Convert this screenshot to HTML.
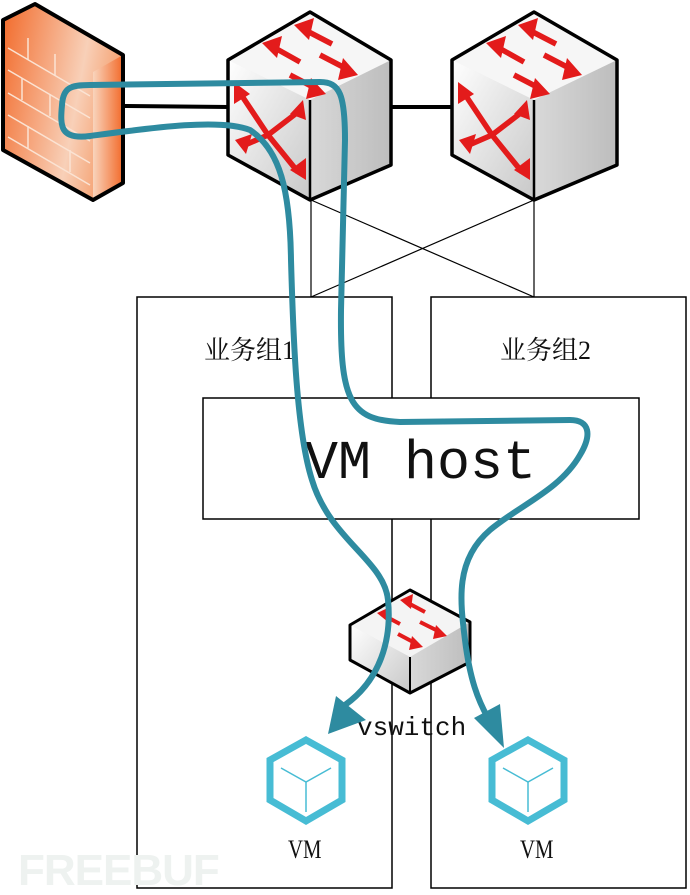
<!DOCTYPE html>
<html><head><meta charset="utf-8"><style>
html,body{margin:0;padding:0;background:#fff;}
svg{display:block;}
</style></head><body>
<svg width="690" height="895" viewBox="0 0 690 895" xmlns="http://www.w3.org/2000/svg">
<defs>
<linearGradient id="fw" x1="0" y1="0" x2="1" y2="0.3">
<stop offset="0" stop-color="#f26a2a"/><stop offset="0.7" stop-color="#f8d0b8"/><stop offset="1" stop-color="#f5a070"/></linearGradient>
<linearGradient id="fws" x1="0" y1="0" x2="1" y2="0">
<stop offset="0" stop-color="#f9d4bc"/><stop offset="1" stop-color="#f26a2a"/></linearGradient>
<linearGradient id="sw" x1="0" y1="0" x2="1" y2="1">
<stop offset="0" stop-color="#ffffff"/><stop offset="1" stop-color="#c8c8c8"/></linearGradient>
<linearGradient id="swr" x1="0" y1="0" x2="1" y2="0">
<stop offset="0" stop-color="#f4f4f4"/><stop offset="1" stop-color="#bdbdbd"/></linearGradient>
</defs>

<rect x="137" y="297" width="255" height="591" fill="#fff" stroke="#000" stroke-width="1.5"/>
<rect x="431" y="297" width="255" height="591" fill="#fff" stroke="#000" stroke-width="1.5"/>
<rect x="203" y="398" width="436" height="121" fill="#fff" stroke="#000" stroke-width="1.5"/>

<g stroke="#000" stroke-width="1.2" fill="none">
<line x1="311" y1="200" x2="311" y2="297"/>
<line x1="534" y1="200" x2="534" y2="297"/>
<line x1="311" y1="200" x2="534" y2="297"/>
<line x1="534" y1="200" x2="311" y2="297"/>
</g>
<g stroke="#000" stroke-width="4">
<line x1="123" y1="106" x2="229" y2="107"/>
<line x1="391" y1="107" x2="452" y2="107"/>
</g>

<polygon points="3,20 35,4 123,55 123,183 93,200 3,150" fill="url(#fw)"/>
<polygon points="93,72 123,55 123,183 93,200" fill="url(#fws)"/>
<polygon points="3,20 35,4 123,55 123,183 93,200 3,150" fill="none" stroke="#000" stroke-width="4" stroke-linejoin="round"/>
<g stroke="#fbe3d3" stroke-width="1.5">
<line x1="8" y1="48" x2="90" y2="96"/><line x1="8" y1="70" x2="90" y2="118"/>
<line x1="8" y1="93" x2="90" y2="141"/><line x1="8" y1="115" x2="90" y2="163"/>
<line x1="8" y1="137" x2="90" y2="185"/>
<line x1="28" y1="38" x2="28" y2="60"/><line x1="55" y1="54" x2="55" y2="76"/>
<line x1="22" y1="78" x2="22" y2="100"/><line x1="50" y1="94" x2="50" y2="116"/>
<line x1="28" y1="126" x2="28" y2="148"/><line x1="70" y1="150" x2="70" y2="172"/>
</g>

<g>
<polygon points="310,12 391,60 391,165 310,200 228,155 228,60" fill="url(#swr)"/>
<polygon points="310,12 391,60 310,100 228,60" fill="#f6f6f6"/>
<polygon points="228,60 310,100 310,200 228,155" fill="url(#sw)"/>
<polygon points="310,12 391,60 391,165 310,200 228,155 228,60" fill="none" stroke="#000" stroke-width="3.5" stroke-linejoin="round"/>
<line x1="310" y1="100" x2="310" y2="200" stroke="#000" stroke-width="2.5"/>
<g fill="#e31b1b" stroke="#e31b1b" stroke-width="5.5">
<line x1="305" y1="30" x2="332" y2="44"/><polygon points="294,25 314,18 309,40" stroke="none"/>
<line x1="275" y1="48" x2="300" y2="62"/><polygon points="262,43 282,36 277,58" stroke="none"/>
<line x1="320" y1="55" x2="345" y2="68"/><polygon points="358,75 338,80 343,58" stroke="none"/>
<line x1="290" y1="75" x2="315" y2="88"/><polygon points="326,94 306,99 311,78" stroke="none"/>
<polyline points="240,93 268,135 298,172" fill="none"/>
<polyline points="298,112 268,135 245,145" fill="none"/>
<polygon points="234,82 250,94 234,104" stroke="none"/><polygon points="306,180 290,170 306,158" stroke="none"/>
<polygon points="306,120 290,114 303,100" stroke="none"/><polygon points="235,140 252,134 246,154" stroke="none"/>
</g>
</g>

<g>
<polygon points="534,12 617,60 617,165 534,200 452,155 452,60" fill="url(#swr)"/>
<polygon points="534,12 617,60 534,100 452,60" fill="#f6f6f6"/>
<polygon points="452,60 534,100 534,200 452,155" fill="url(#sw)"/>
<polygon points="534,12 617,60 617,165 534,200 452,155 452,60" fill="none" stroke="#000" stroke-width="3.5" stroke-linejoin="round"/>
<line x1="534" y1="100" x2="534" y2="200" stroke="#000" stroke-width="2.5"/>
<g fill="#e31b1b" stroke="#e31b1b" stroke-width="5.5">
<line x1="529" y1="30" x2="556" y2="44"/><polygon points="518,25 538,18 533,40" stroke="none"/>
<line x1="499" y1="48" x2="524" y2="62"/><polygon points="486,43 506,36 501,58" stroke="none"/>
<line x1="544" y1="55" x2="569" y2="68"/><polygon points="582,75 562,80 567,58" stroke="none"/>
<line x1="514" y1="75" x2="539" y2="88"/><polygon points="550,94 530,99 535,78" stroke="none"/>
<polyline points="464,93 492,135 522,172" fill="none"/>
<polyline points="522,112 492,135 469,145" fill="none"/>
<polygon points="458,82 474,94 458,104" stroke="none"/><polygon points="530,180 514,170 530,158" stroke="none"/>
<polygon points="530,120 514,114 527,100" stroke="none"/><polygon points="459,140 476,134 470,154" stroke="none"/>
</g>
</g>

<g>
<polygon points="410,590 470,622 470,662 410,693 350,660 350,625" fill="url(#swr)"/>
<polygon points="410,590 470,622 410,657 350,625" fill="#f4f4f4"/>
<polygon points="350,625 410,657 410,693 350,660" fill="url(#sw)"/>
<polygon points="410,590 470,622 470,662 410,693 350,660 350,625" fill="none" stroke="#000" stroke-width="3" stroke-linejoin="round"/>
<line x1="410" y1="657" x2="410" y2="693" stroke="#000" stroke-width="2"/>
<g fill="#e31b1b" stroke="#e31b1b" stroke-width="4">
<line x1="408" y1="603" x2="425" y2="612"/><polygon points="400,600 413,594 411,609" stroke="none"/>
<line x1="385" y1="616" x2="400" y2="624"/><polygon points="377,613 390,607 388,622" stroke="none"/>
<line x1="420" y1="622" x2="438" y2="631"/><polygon points="447,636 433,639 436,625" stroke="none"/>
<line x1="398" y1="634" x2="415" y2="643"/><polygon points="423,647 409,650 412,636" stroke="none"/>
</g>
</g>

<g fill="none" stroke="#47bcd4">
<polygon points="306,740 342,760 342,800 306,821 270,800 270,760" stroke-width="7"/>
<polyline points="281,768 306,782 331,768" stroke-width="1.5"/><line x1="306" y1="782" x2="306" y2="812" stroke-width="1.5"/>
<polygon points="528,740 564,760 564,800 528,821 492,800 492,760" stroke-width="7"/>
<polyline points="503,768 528,782 553,768" stroke-width="1.5"/><line x1="528" y1="782" x2="528" y2="812" stroke-width="1.5"/>
</g>

<g font-family="'Liberation Serif','Noto Serif CJK SC',serif" fill="#111">
<text x="204" y="359" font-size="26">业务组1</text>
<text x="500" y="359" font-size="26">业务组2</text>
</g>
<text x="305" y="478" font-family="'Liberation Mono',monospace" font-size="55" fill="#111">VM host</text>
<text x="357" y="735" font-family="'Liberation Mono',monospace" font-size="26" fill="#111">vswitch</text>
<text transform="translate(288,858) scale(0.8,1)" font-family="'Liberation Serif',serif" font-size="26" fill="#111">VM</text>
<text transform="translate(520,858) scale(0.8,1)" font-family="'Liberation Serif',serif" font-size="26" fill="#111">VM</text>
<text x="18" y="885" font-family="'Liberation Sans',sans-serif" font-weight="bold" font-size="44" fill="#eef2f0" letter-spacing="-1">FREEBUF</text>

<g fill="none" stroke="#2e8ba0" stroke-width="6" stroke-linecap="round">
<path d="M345,705 C380,680 392,640 388,600 C384,560 330,540 312,480 C296,430 293,330 291,260 C290,190 280,150 250,130 C220,118 150,128 90,136 C60,140 60,126 62,105 C63,88 70,85 90,85 L320,82 C340,82 345,95 345,140 L341,310 C340,400 350,420 400,422 L570,420 C590,420 592,435 580,455 C560,490 520,505 490,530 C455,560 460,600 465,640 C470,680 478,700 488,718"/>
</g>
<polygon points="328,734 336,696 366,720" fill="#2e8ba0"/>
<polygon points="504,748 474,718 500,704" fill="#2e8ba0"/>
</svg>
</body></html>
